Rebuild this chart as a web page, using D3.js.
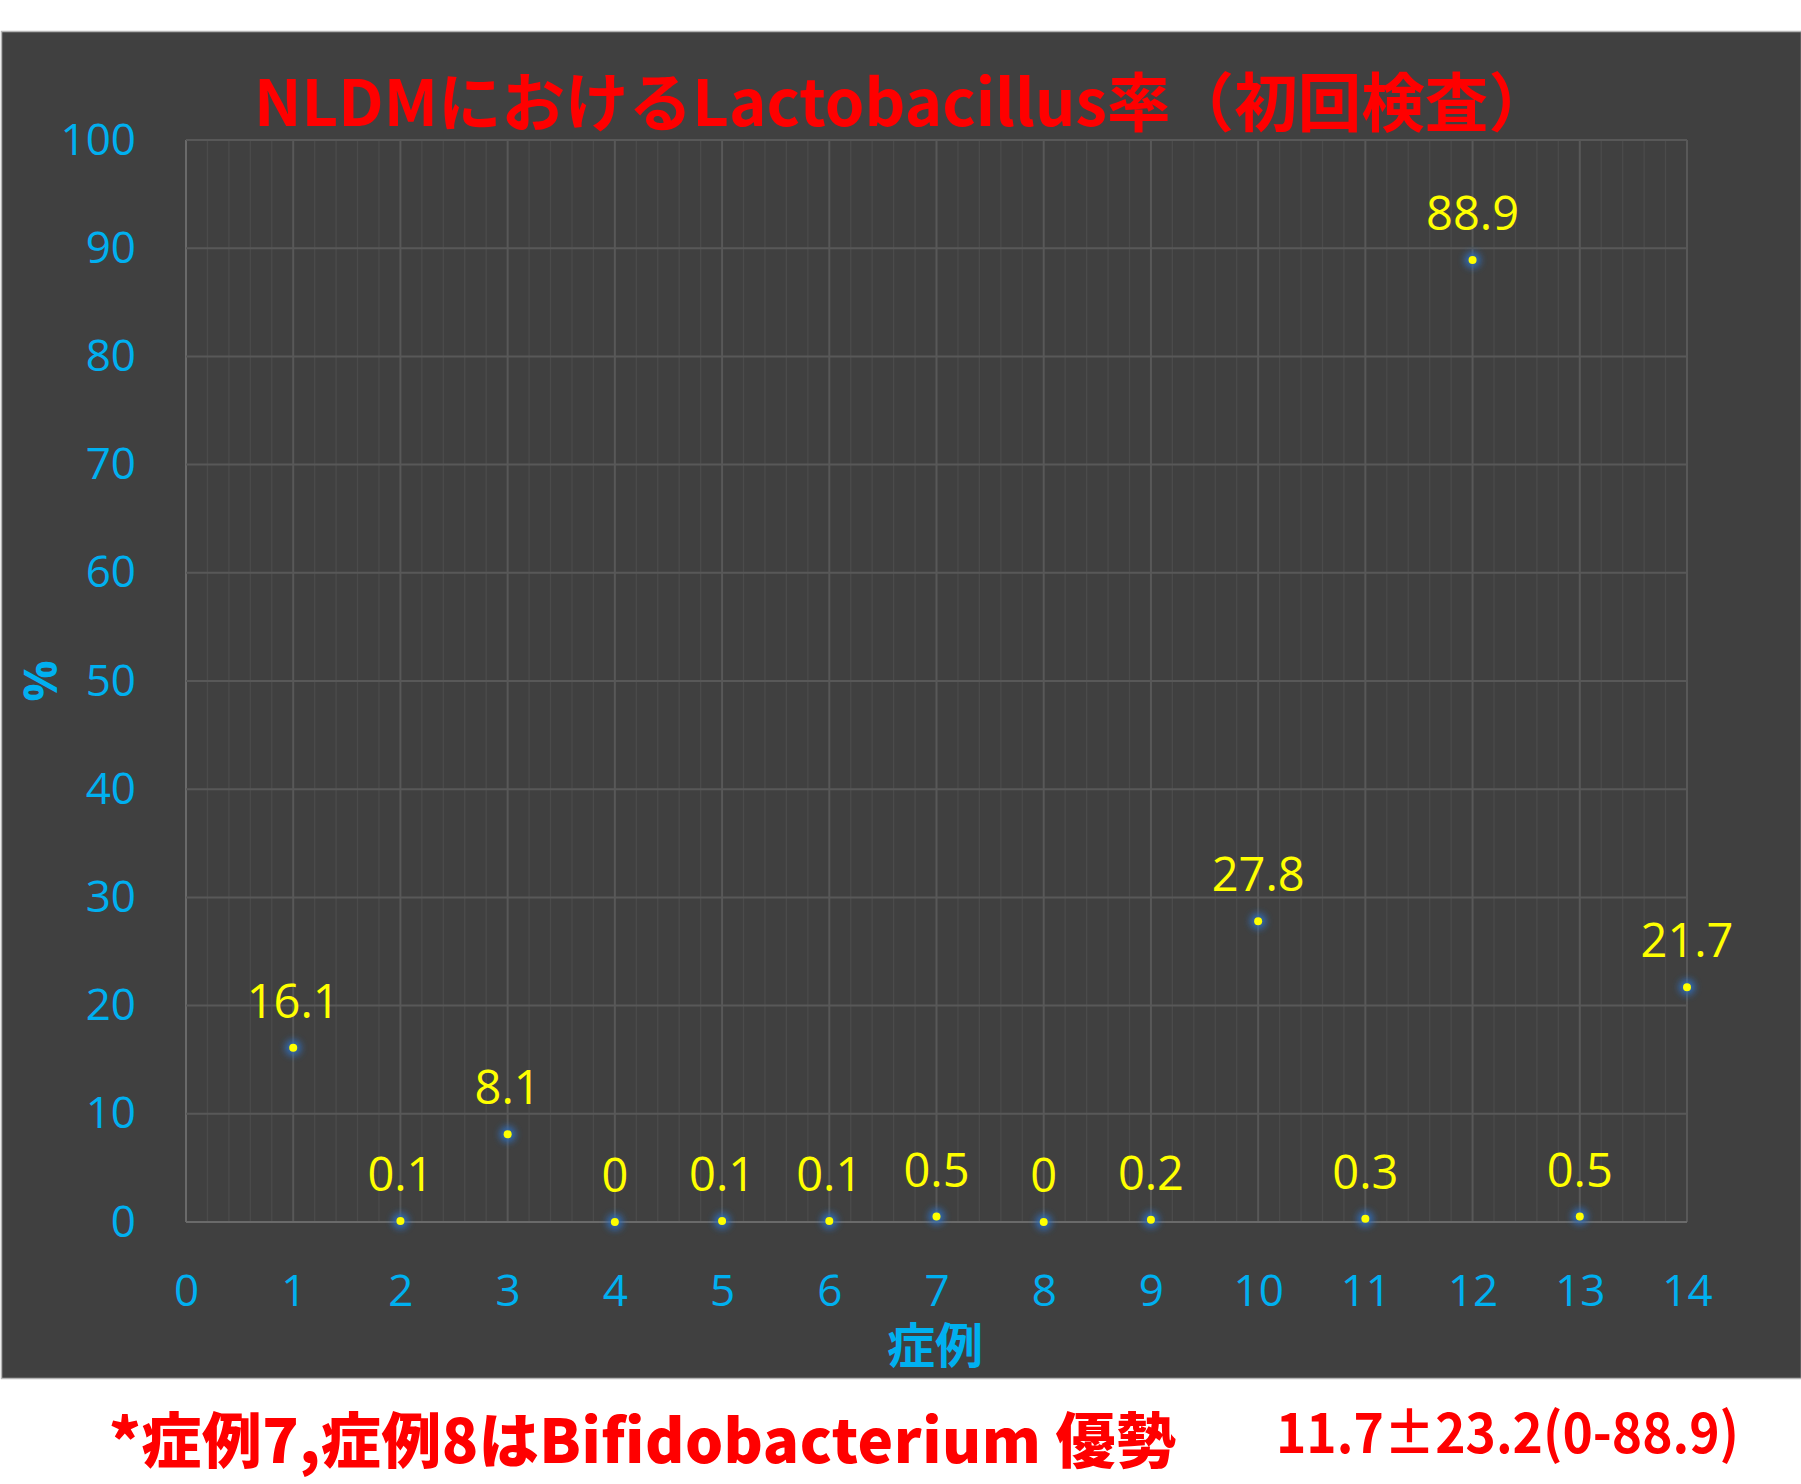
<!DOCTYPE html>
<html>
<head>
<meta charset="utf-8">
<script src="https://cdn.jsdelivr.net/npm/d3@7"></script>
<style>
  body { margin: 0; background: #fff; }
  svg { display: block; }
</style>
</head>
<body>
<svg width="1801" height="1484"></svg>
<script>
// chart values
const cases = [1, 2, 3, 4, 5, 6, 7, 8, 9, 10, 11, 12, 13, 14];
const rates = [16.1, 0.1, 8.1, 0, 0.1, 0.1, 0.5, 0, 0.2, 27.8, 0.3, 88.9, 0.5, 21.7];
const xTicks = [0, 1, 2, 3, 4, 5, 6, 7, 8, 9, 10, 11, 12, 13, 14];
const yTicks = [0, 10, 20, 30, 40, 50, 60, 70, 80, 90, 100];

const title = "NLDMにおけるLactobacillus率（初回検査）";
const xTitle = "症例";
const yTitle = "%";
const note = "*症例7,症例8はBifidobacterium 優勢";
const stats = "11.7±23.2(0-88.9)";

const svg = d3.select("svg");
const latin = "'Open Sans', 'Noto Sans CJK JP', sans-serif";
const jp = "'Noto Sans CJK JP', sans-serif";
const blue = "#00b0f0";

const plot = { left: 186, top: 140, right: 1687, bottom: 1222 };

const x = d3.scaleLinear().domain([0, 14]).range([plot.left, plot.right]);
const y = d3.scaleLinear().domain([0, 100]).range([plot.bottom, plot.top]);

// dark chart area
svg.append("rect")
  .attr("x", 1.5).attr("y", 31.5)
  .attr("width", 1800).attr("height", 1347)
  .attr("fill", "#404040")
  .attr("stroke", "#b4b4b4")
  .attr("stroke-width", 1.5);

// glow for the points
const defs = svg.append("defs");
defs.append("filter")
  .attr("id", "glow")
  .attr("x", "-100%").attr("y", "-100%")
  .attr("width", "300%").attr("height", "300%")
  .append("feGaussianBlur")
  .attr("stdDeviation", 3.5);

// minor vertical grid
const g = svg.append("g");
g.selectAll("line.minor")
  .data(d3.range(0, 70).map(i => i * 0.2).filter(v => Math.abs(v - Math.round(v)) > 0.01))
  .enter()
  .append("line")
    .attr("class", "minor")
    .attr("x1", d => x(d)).attr("x2", d => x(d))
    .attr("y1", plot.top).attr("y2", plot.bottom)
    .attr("stroke", "#4b4b4b")
    .attr("stroke-width", 1.3);

// major grid
g.selectAll("line.vmajor")
  .data(xTicks)
  .enter()
  .append("line")
    .attr("x1", d => x(d)).attr("x2", d => x(d))
    .attr("y1", plot.top).attr("y2", plot.bottom)
    .attr("stroke", d => d == 0 ? "#6a6a6a" : "#585858")
    .attr("stroke-width", 2);

g.selectAll("line.hmajor")
  .data(yTicks)
  .enter()
  .append("line")
    .attr("x1", plot.left).attr("x2", plot.right)
    .attr("y1", d => y(d)).attr("y2", d => y(d))
    .attr("stroke", d => d == 0 ? "#6a6a6a" : "#585858")
    .attr("stroke-width", 2);

// axes (labels only)
const xAxis = svg.append("g")
  .attr("transform", `translate(0,${plot.bottom})`)
  .call(d3.axisBottom(x).tickValues(xTicks).tickSize(0).tickPadding(53).tickFormat(d3.format("d")));

const yAxis = svg.append("g")
  .attr("transform", `translate(${plot.left},0)`)
  .call(d3.axisLeft(y).tickValues(yTicks).tickSize(0).tickPadding(50).tickFormat(d3.format("d")));

[xAxis, yAxis].forEach(a => {
  a.select(".domain").remove();
  a.selectAll("text")
    .attr("fill", blue)
    .style("font-family", latin)
    .style("font-size", "44px");
});

// points
const pts = svg.append("g");
pts.selectAll("circle.halo")
  .data(cases)
  .enter()
  .append("circle")
    .attr("cx", d => x(d))
    .attr("cy", (d, i) => y(rates[i]))
    .attr("r", 8)
    .attr("fill", "#2f6fc0")
    .attr("opacity", 0.9)
    .attr("filter", "url(#glow)");

pts.selectAll("circle.dot")
  .data(cases)
  .enter()
  .append("circle")
    .attr("cx", d => x(d))
    .attr("cy", (d, i) => y(rates[i]))
    .attr("r", 4)
    .attr("fill", "#ffff00");

// data labels
pts.selectAll("text")
  .data(cases)
  .enter()
  .append("text")
    .attr("x", d => x(d))
    .attr("y", (d, i) => y(rates[i]) - 30)
    .attr("text-anchor", "middle")
    .attr("fill", "#ffff00")
    .style("font-family", latin)
    .style("font-size", "47px")
    .text((d, i) => rates[i]);

// titles
svg.append("text")
  .attr("x", 903).attr("y", 126)
  .attr("text-anchor", "middle")
  .attr("fill", "#ff0000")
  .attr("textLength", 1298)
  .attr("lengthAdjust", "spacingAndGlyphs")
  .style("font-family", jp)
  .style("font-weight", 700)
  .style("font-size", "64px")
  .text(title);

svg.append("text")
  .attr("x", 935).attr("y", 1363)
  .attr("text-anchor", "middle")
  .attr("fill", blue)
  .style("font-family", jp)
  .style("font-weight", 700)
  .style("font-size", "48px")
  .text(xTitle);

svg.append("text")
  .attr("transform", `translate(57,${(plot.top + plot.bottom) / 2}) rotate(-90)`)
  .attr("text-anchor", "middle")
  .attr("fill", blue)
  .style("font-family", latin)
  .style("font-weight", 700)
  .style("font-size", "46px")
  .text(yTitle);

// notes under the chart
svg.append("text")
  .attr("x", 109).attr("y", 1463)
  .attr("fill", "#ff0000")
  .attr("textLength", 1067)
  .attr("lengthAdjust", "spacing")
  .style("font-family", jp)
  .style("font-weight", 900)
  .style("font-size", "60px")
  .text(note);

svg.append("text")
  .attr("x", 1276).attr("y", 1453)
  .attr("fill", "#ff0000")
  .attr("textLength", 463)
  .attr("lengthAdjust", "spacingAndGlyphs")
  .style("font-family", jp)
  .style("font-weight", 700)
  .style("font-size", "55px")
  .text(stats);
</script>
</body>
</html>
